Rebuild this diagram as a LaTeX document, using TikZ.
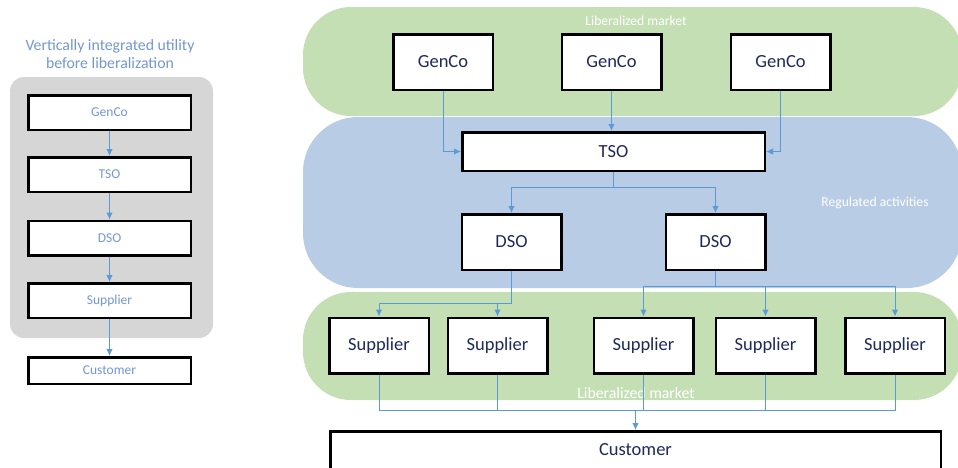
\documentclass[tikz,border=0pt]{standalone}
\usepackage{fontspec}
\setmainfont{Carlito}
\usepackage{tikz}
\usetikzlibrary{arrows,arrows.meta,positioning,calc}

\definecolor{greenzone}{HTML}{C5DFB4}
\definecolor{bluezone}{HTML}{B8CCE5}
\definecolor{grayzone}{HTML}{D6D6D6}
\definecolor{flowblue}{HTML}{5B9BD5}
\definecolor{boxtext}{HTML}{1F2A5C}
\definecolor{lefttext}{HTML}{7397D0}

\tikzset{
  company/.style={draw=black, line width=2.5pt, fill=white, text=boxtext, inner sep=0pt,
    minimum width=99.5pt, minimum height=55.5pt, font=\fontsize{18.5}{22}\selectfont},
  oldcompany/.style={company, text=lefttext, minimum width=162.5pt, minimum height=34.5pt,
    font=\fontsize{13.5}{16}\selectfont},
  zone/.style={rounded corners=#1, draw=none},
  zonelabel/.style={text=white, font=\fontsize{13.6}{16}\selectfont},
  flow/.style={-{Latex[length=7pt,width=6.5pt]}, draw=flowblue, line width=1pt},
  bus/.style={draw=flowblue, line width=1pt}
}

\begin{document}
\begin{tikzpicture}[x=1pt, y=-1pt]
    \useasboundingbox (0,0) rectangle (958,467);
    \clip (0,0) rectangle (958,467);

    % ================== Left side: before liberalization ==================
    \fill[zone=14pt, fill=grayzone] (10,77) rectangle (213,338);
    \node[text=lefttext, align=center, font=\fontsize{15.8}{18}\selectfont] (oldTitle) at (110,54)
        {Vertically integrated utility\\before liberalization};

    \node[oldcompany] (oldGen) at (109.5,112.5) {GenCo};
    \node[oldcompany] (oldTso) at (109.5,174.5) {TSO};
    \node[oldcompany] (oldDso) at (109.5,238) {DSO};
    \node[oldcompany] (oldSup) at (109.5,300.5) {Supplier};
    \node[oldcompany, minimum height=26.5pt] (oldCus) at (109.5,370.5) {Customer};

    \draw[flow] (oldGen) -- (oldTso);
    \draw[flow] (oldTso) -- (oldDso);
    \draw[flow] (oldDso) -- (oldSup);
    \draw[flow] (oldSup) -- (oldCus);

    % ================== Right side: zones ==================
    \fill[zone=48pt, fill=greenzone] (303,7) rectangle (962,116);
    \fill[zone=55pt, fill=bluezone] (303,117) rectangle (962,288);
    \fill[zone=48pt, fill=greenzone] (303,292) rectangle (962,400);

    \node[zonelabel] (topMarket) at (636,21) {Liberalized market};
    \node[zonelabel] (regulated) at (875,203) {Regulated activities};
    \node[zonelabel, font=\fontsize{15.8}{18}\selectfont] (lowMarket) at (636,393) {Liberalized market};

    % Generation
    \node[company] (gen1) at (443,62) {GenCo};
    \node[company] (gen2) at (611.5,62) {GenCo};
    \node[company] (gen3) at (780.5,62) {GenCo};

    % Transmission
    \node[company, minimum width=302.5pt, minimum height=38.5pt] (tso) at (613.5,151.5) {TSO};

    % Distribution
    \node[company] (dso1) at (511.5,242) {DSO};
    \node[company] (dso2) at (715.5,242) {DSO};

    % Suppliers
    \node[company] (sup1) at (379,345.5) {Supplier};
    \node[company] (sup2) at (497.5,345.5) {Supplier};
    \node[company] (sup3) at (643.5,345.5) {Supplier};
    \node[company] (sup4) at (765.5,345.5) {Supplier};
    \node[company] (sup5) at (895,345.5) {Supplier};

    % Customer
    \node[company, minimum width=610.5pt, minimum height=37.5pt] (cus) at (635.5,450) {Customer};

    % split points
    \coordinate (tsoSplit) at (613.5,187);
    \coordinate (dsoSplit1) at (511.5,303);
    \coordinate (dsoSplit2) at (715.5,286);
    \coordinate (cusIn) at (635.5,410);

    % GenCo to TSO
    \draw[flow] (gen1) |- (tso);
    \draw[flow] (gen2.south) -- (gen2.south |- tso.north);
    \draw[flow] (gen3) |- (tso);

    % TSO to DSO
    \draw[bus] (tso.south) -- (tsoSplit);
    \draw[flow] (tsoSplit) -| (dso1);
    \draw[flow] (tsoSplit) -| (dso2);

    % DSO to suppliers
    \draw[bus] (dso1.south) -- (dsoSplit1);
    \draw[flow] (dsoSplit1) -| (sup1);
    \draw[flow] (dsoSplit1) -| (sup2);
    \draw[bus] (dso2.south) -- (dsoSplit2);
    \draw[flow] (dsoSplit2) -| (sup3);
    \draw[flow] (dsoSplit2) -| (sup4);
    \draw[flow] (dsoSplit2) -| (sup5);

    % suppliers to customer
    \draw[bus] (sup1) |- (cusIn);
    \draw[bus] (sup2) |- (cusIn);
    \draw[bus] (sup3) |- (cusIn);
    \draw[bus] (sup4) |- (cusIn);
    \draw[bus] (sup5) |- (cusIn);
    \draw[flow] (cusIn) -- (cus);

\end{tikzpicture}
\end{document}
